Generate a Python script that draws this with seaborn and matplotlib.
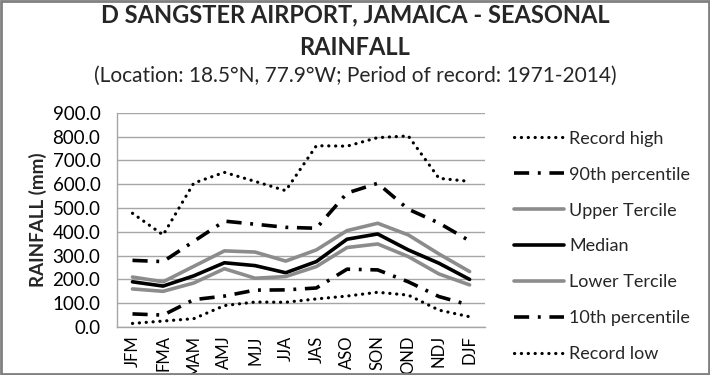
import matplotlib
matplotlib.use("Agg")
import matplotlib.pyplot as plt
import seaborn as sns
import pandas as pd

seasons = ["JFM", "FMA", "MAM", "AMJ", "MJJ", "JJA", "JAS", "ASO", "SON", "OND", "NDJ", "DJF"]
record_high = [478, 387, 605, 650, 612, 573, 762, 760, 796, 803, 625, 612]
p90 = [280, 275, 360, 445, 432, 419, 415, 563, 604, 495, 437, 362]
upper_tercile = [210, 190, 255, 320, 315, 277, 324, 405, 436, 387, 307, 233]
median = [190, 172, 215, 270, 258, 228, 275, 369, 391, 324, 268, 200]
lower_tercile = [160, 150, 185, 245, 205, 212, 254, 334, 349, 296, 223, 177]
p10 = [55, 50, 115, 130, 155, 156, 164, 243, 240, 190, 128, 92]
record_low = [15, 25, 35, 90, 105, 104, 118, 130, 146, 134, 71, 43]
yticks = [0, 100, 200, 300, 400, 500, 600, 700, 800, 900]

sns.set_theme(style="white")
plt.rcParams["font.family"] = ["Lato", "DejaVu Sans"]

fig = plt.figure(figsize=(7.1, 3.75), dpi=100)
ax = fig.add_axes([0.165, 0.128, 0.518, 0.571])

dot = dict(color="black", lw=2.3, dashes=(0.05, 2.1), dash_capstyle="round")
dashdot = dict(color="black", lw=2.6, dashes=(4.2, 2.4, 0.8, 2.4))

series = [
    ("Record high", record_high, dot),
    ("90th percentile", p90, dashdot),
    ("Upper Tercile", upper_tercile, dict(color="#8c8c8c", lw=2.6)),
    ("Median", median, dict(color="black", lw=2.6)),
    ("Lower Tercile", lower_tercile, dict(color="#8c8c8c", lw=2.6)),
    ("10th percentile", p10, dashdot),
    ("Record low", record_low, dot),
]

for name, vals, st in series:
    df = pd.DataFrame({"season": seasons, "value": vals})
    sns.lineplot(data=df, x="season", y="value", ax=ax, label=name, sort=False, **st)

ax.set_xlim(-0.5, 11.5)
ax.set_ylim(0, 900)
ax.set_yticks(yticks)
ax.set_yticklabels([f"{v:.1f}" for v in yticks], fontsize=13.5)
ax.set_xticks(range(len(seasons)))
ax.set_xticklabels(seasons, rotation=90, fontsize=12)
ax.set_xlabel("")
ax.set_ylabel("RAINFALL (mm)", fontsize=13.5, fontweight="bold", labelpad=4)
ax.grid(axis="y", color="#a6a6a6", lw=1)
ax.set_axisbelow(True)
for s in ["top", "right"]:
    ax.spines[s].set_visible(False)
for s in ["left", "bottom"]:
    ax.spines[s].set_color("#a6a6a6")
    ax.spines[s].set_linewidth(1)
ax.tick_params(axis="y", length=0, pad=12, colors="black")
ax.tick_params(axis="x", length=0, pad=6, colors="black")

leg = ax.legend(loc="upper left", bbox_to_anchor=(1.06, 0.95), frameon=False,
                fontsize=13, handlelength=2.75, handletextpad=0.3, labelspacing=1.1,
                borderaxespad=0)

fig.text(0.5, 0.96, "D SANGSTER AIRPORT, JAMAICA - SEASONAL", ha="center", va="center",
         fontsize=17, fontweight="bold")
fig.text(0.5, 0.873, "RAINFALL", ha="center", va="center", fontsize=17, fontweight="bold")
fig.text(0.5, 0.797, "(Location: 18.5°N, 77.9°W; Period of record: 1971-2014)", ha="center",
         va="center", fontsize=15)

border = plt.Rectangle((0.0015, 0.0015), 0.997, 0.997, transform=fig.transFigure, fill=False,
                       edgecolor="#808080", lw=2)
fig.add_artist(border)

fig.savefig("out.png", dpi=100)
